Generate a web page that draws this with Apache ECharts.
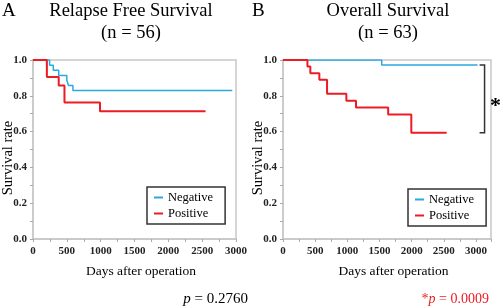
<!DOCTYPE html>
<html>
<head>
<meta charset="utf-8">
<script src="https://cdn.jsdelivr.net/npm/echarts@6/dist/echarts.min.js"></script>
<style>
  html, body { margin: 0; padding: 0; background: #fff; }
  #chart { width: 500px; height: 307px; }
</style>
</head>
<body>
<div id="chart"></div>
<script>
// Kaplan-Meier steps: [days, survival rate]
const rfsNegative = [[0, 1], [245, 0.971], [300, 0.943], [380, 0.914], [500, 0.886], [525, 0.857], [590, 0.829], [2945, 0.829]];
const rfsPositive = [[0, 1], [205, 0.905], [380, 0.857], [465, 0.762], [990, 0.714], [2550, 0.714]];
const osNegative = [[0, 1], [1535, 0.972], [3025, 0.972]];
const osPositive = [[0, 1], [380, 0.963], [425, 0.926], [565, 0.889], [685, 0.812], [985, 0.773], [1135, 0.735], [1635, 0.695], [1995, 0.593], [2545, 0.593]];

const groupNames = ['Negative', 'Positive'];
const panelLetters = ['A', 'B'];
const panelTitles = ['Relapse Free Survival', 'Overall Survival'];
const panelCounts = ['(n = 56)', '(n = 63)'];
const pValues = ['0.2760', '0.0009'];
const xMax = [3000, 3234];

const FONT = 'Liberation Serif';
const BLUE = '#2aa9e0';
const RED = '#ec1c24';
const FRAME = '#c8c8c8';

const chart = echarts.init(document.getElementById('chart'));

function makeX(idx) {
  return {
    type: 'value', gridIndex: idx, min: 0, max: xMax[idx], interval: 500,
    name: 'Days after operation', nameLocation: 'middle', nameGap: 25, nameMoveOverlap: false,
    nameTextStyle: { fontFamily: FONT, fontSize: 13.5, color: '#000', padding: [0, 0, 0, 13] },
    axisLine: { show: true, onZero: false, lineStyle: { color: FRAME, width: 1.5 } },
    axisTick: { show: true, length: 3, lineStyle: { color: '#aaa' } },
    minorTick: { show: true, splitNumber: 2, length: 3, lineStyle: { color: '#aaa' } },
    axisLabel: {
      fontFamily: FONT, fontSize: 11, fontWeight: 'bold', color: '#222', margin: 7,
      showMaxLabel: idx === 0, formatter: v => String(v)
    },
    splitLine: { show: false }
  };
}

function makeY(idx) {
  return {
    type: 'value', gridIndex: idx, min: 0, max: 1, interval: 0.2,
    name: 'Survival rate', nameLocation: 'middle', nameGap: 17, nameMoveOverlap: false,
    nameTextStyle: { fontFamily: FONT, fontSize: 14.5, color: '#000', padding: [0, 17, 0, 0] },
    axisLine: { show: true, lineStyle: { color: FRAME, width: 1.5 } },
    axisTick: { show: true, length: 3, lineStyle: { color: '#aaa' } },
    minorTick: { show: true, splitNumber: 2, length: 3, lineStyle: { color: '#aaa' } },
    axisLabel: { fontFamily: FONT, fontSize: 11, fontWeight: 'bold', color: '#222', margin: 6, formatter: v => v.toFixed(1) },
    splitLine: { show: false }
  };
}

function makeSeries(name, data, idx, color, width) {
  return {
    name: name, type: 'line', step: 'end', data: data,
    xAxisIndex: idx, yAxisIndex: idx,
    showSymbol: false, symbol: 'none',
    lineStyle: { color: color, width: width },
    itemStyle: { color: color },
    animation: false
  };
}

function makeLegend(left, top) {
  return {
    data: groupNames, orient: 'vertical', left: left, top: top,
    icon: 'rect', itemWidth: 9, itemHeight: 2, itemGap: 3,
    padding: [4, 12, 4, 7],
    borderColor: '#333', borderWidth: 1.5,
    textStyle: { fontFamily: FONT, fontSize: 12.5, lineHeight: 12, color: '#000' },
    selectedMode: false
  };
}

chart.setOption({
  animation: false,
  grid: [
    { left: 33, top: 60, width: 203, height: 179, show: true, borderColor: FRAME, borderWidth: 1.5, outerBoundsMode: 'none', containLabel: false },
    { left: 283, top: 60, width: 208, height: 179, show: true, borderColor: FRAME, borderWidth: 1.5, outerBoundsMode: 'none', containLabel: false }
  ],
  xAxis: [makeX(0), makeX(1)],
  yAxis: [makeY(0), makeY(1)],
  legend: [makeLegend(147, 187), makeLegend(408, 189)],
  series: [
    makeSeries(groupNames[0], rfsNegative, 0, BLUE, 1.5),
    makeSeries(groupNames[1], rfsPositive, 0, RED, 2),
    makeSeries(groupNames[0], osNegative, 1, BLUE, 1.5),
    makeSeries(groupNames[1], osPositive, 1, RED, 2)
  ]
});

// titles, p values and the significance bracket
const titleCenters = [131, 388];
const graphics = [];
[0, 1].forEach(i => {
  const base = i * 250;
  graphics.push({ type: 'text', style: { text: panelLetters[i], x: base + 2, y: 11, fontFamily: FONT, fontSize: 19, fill: '#000', verticalAlign: 'middle' } });
  graphics.push({ type: 'text', style: { text: panelTitles[i], x: titleCenters[i], y: 11, align: 'center', verticalAlign: 'middle', fontFamily: FONT, fontSize: 18.5, fill: '#000' } });
  graphics.push({ type: 'text', style: { text: panelCounts[i], x: titleCenters[i], y: 33, align: 'center', verticalAlign: 'middle', fontFamily: FONT, fontSize: 18.5, fill: '#000' } });
});
graphics.push({
  type: 'text',
  style: {
    text: '{i|p} = ' + pValues[0], x: 248, y: 299, align: 'right', verticalAlign: 'middle',
    fontFamily: FONT, fontSize: 15, fill: '#000',
    rich: { i: { fontFamily: FONT, fontSize: 15, fontStyle: 'italic', fill: '#000' } }
  }
});
graphics.push({
  type: 'text',
  style: {
    text: '*{i|p} = ' + pValues[1], x: 489, y: 299, align: 'right', verticalAlign: 'middle',
    fontFamily: FONT, fontSize: 14, fill: RED,
    rich: { i: { fontFamily: FONT, fontSize: 14, fontStyle: 'italic', fill: RED } }
  }
});

const bracketDay = 3134;
const pTop = chart.convertToPixel({ xAxisIndex: 1, yAxisIndex: 1 }, [bracketDay, osNegative[osNegative.length - 1][1]]);
const pBot = chart.convertToPixel({ xAxisIndex: 1, yAxisIndex: 1 }, [bracketDay, osPositive[osPositive.length - 1][1]]);
graphics.push({
  type: 'polyline',
  shape: { points: [[pTop[0] - 5, pTop[1]], [pTop[0], pTop[1]], [pBot[0], pBot[1]], [pBot[0] - 5, pBot[1]]] },
  style: { stroke: '#333', lineWidth: 1.5, fill: null }
});
graphics.push({
  type: 'text',
  style: { text: '*', x: pTop[0] + 11, y: (pTop[1] + pBot[1]) / 2 + 7, align: 'center', verticalAlign: 'middle', fontFamily: FONT, fontSize: 22, fontWeight: 'bold', fill: '#000' }
});

chart.setOption({ graphic: graphics });
</script>
</body>
</html>
